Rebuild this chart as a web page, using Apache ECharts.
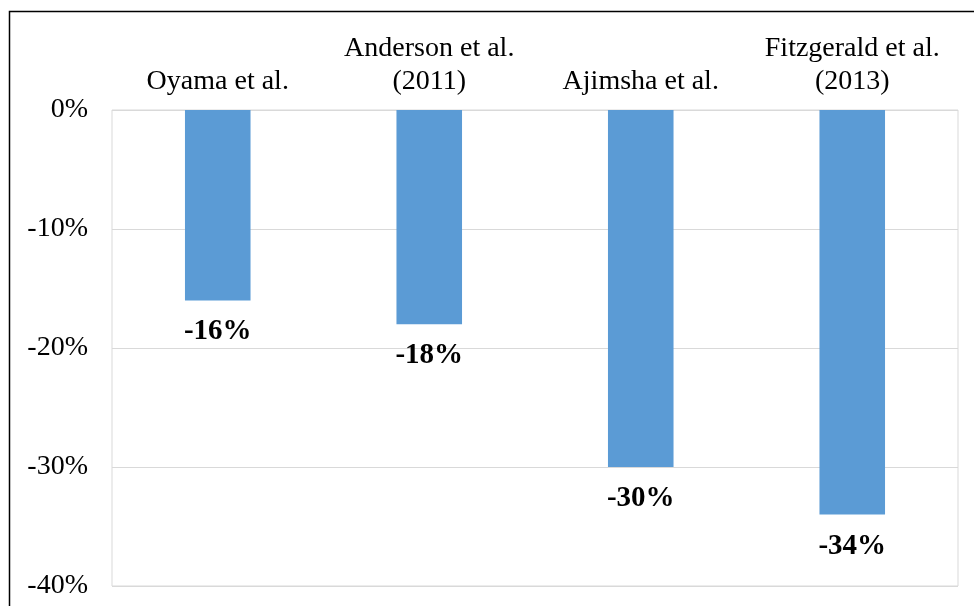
<!DOCTYPE html>
<html>
<head>
<meta charset="utf-8">
<style>
  html, body { margin: 0; padding: 0; background: #fff; }
  #chart { width: 974px; height: 606px; }
</style>
<script src="https://cdn.jsdelivr.net/npm/echarts@6/dist/echarts.min.js"></script>
</head>
<body>
<div id="chart"></div>
<script>
// Studies compared and their percentage change
const studies = ['Oyama et al.', 'Anderson et al.\n(2011)', 'Ajimsha et al.', 'Fitzgerald et al.\n(2013)'];
const changePct = [-16, -18, -30, -34];
const yTicks = { min: -40, max: 0, interval: 10 };

const chart = echarts.init(document.getElementById('chart'), null, { renderer: 'canvas' });
const serif = '"Liberation Serif", "Times New Roman", serif';

chart.setOption({
  animation: false,
  backgroundColor: '#fff',
  grid: {
    left: 112, right: 16, top: 110, bottom: 20,
    show: true, borderColor: '#d9d9d9', borderWidth: 1
  },
  graphic: [{
    type: 'rect',
    shape: { x: 9.5, y: 11.5, width: 1000, height: 1000 },
    style: { fill: 'none', stroke: '#000', lineWidth: 1.5 },
    silent: true
  }],
  xAxis: {
    type: 'category',
    position: 'top',
    data: studies,
    axisLine: { show: false },
    axisTick: { show: false },
    axisLabel: {
      interval: 0,
      hideOverlap: false,
      margin: 12,
      fontFamily: serif,
      fontSize: 28,
      color: '#000',
      lineHeight: 33,
      verticalAlign: 'bottom'
    }
  },
  yAxis: {
    type: 'value',
    min: yTicks.min, max: yTicks.max, interval: yTicks.interval,
    axisLine: { show: false },
    axisTick: { show: false },
    splitLine: { lineStyle: { color: '#d9d9d9', width: 1 } },
    axisLabel: {
      margin: 24,
      fontFamily: serif,
      fontSize: 28,
      color: '#000',
      formatter: v => v + '%'
    }
  },
  series: [{
    type: 'bar',
    data: changePct,
    barWidth: '31%',
    itemStyle: { color: '#5b9bd5' },
    label: {
      show: true,
      position: 'bottom',
      distance: 17,
      fontFamily: serif,
      fontSize: 29,
      fontWeight: 'bold',
      color: '#000',
      formatter: p => p.value + '%'
    }
  }]
});
</script>
</body>
</html>
